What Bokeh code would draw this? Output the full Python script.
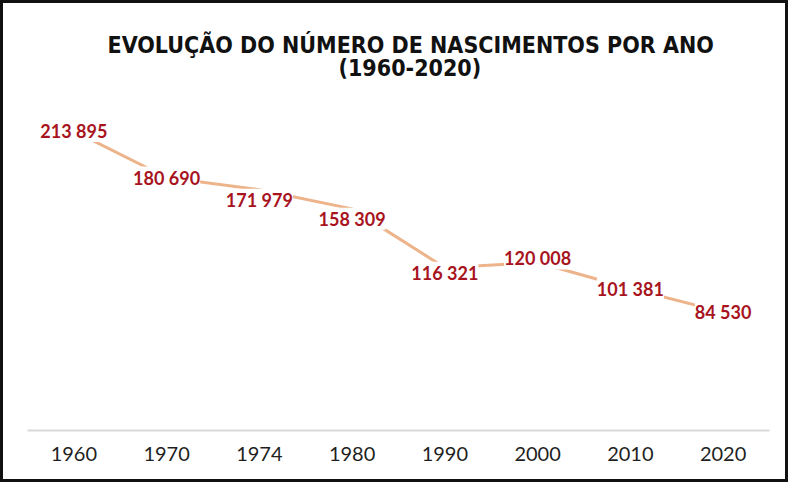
from bokeh.plotting import figure
from bokeh.models import ColumnDataSource, LabelSet, Title, FactorRange
from bokeh.core.properties import value
from bokeh.embed import file_html
from bokeh.resources import INLINE

# ---- data ----
years = ["1960", "1970", "1974", "1980", "1990", "2000", "2010", "2020"]
births = [213895, 180690, 171979, 158309, 116321, 120008, 101381, 84530]
title_line1 = "EVOLUÇÃO DO NÚMERO DE NASCIMENTOS POR ANO"
title_line2 = "(1960-2020)"

# label placement nudges (screen px, style only)
label_dy = [0, 0, -10, -10, -5, 4, 0, 0]

labels = [f"{v:,}".replace(",", " ") for v in births]

src = ColumnDataSource(dict(year=years, births=births, label=labels, dy=label_dy))

p = figure(
    x_range=FactorRange(*years),
    y_range=(0, 250000),
    width=788, height=482,
    output_backend="svg", toolbar_location=None,
    title=None,
    min_border_left=24, min_border_right=22,
    min_border_top=77, min_border_bottom=55,
    styles={"border": "3px solid #111111"},
)
p.outline_line_color = None
p.background_fill_color = "white"
p.border_fill_color = "white"
p.xgrid.visible = False
p.ygrid.visible = False
p.yaxis.visible = False

ax = p.xaxis[0]
ax.axis_line_color = "#d9d9d9"
ax.axis_line_width = 2
ax.major_tick_line_color = None
ax.minor_tick_line_color = None
ax.major_label_text_font = "Lato"
ax.major_label_text_font_size = "20px"
ax.major_label_text_color = "#1f1f1f"
ax.major_label_standoff = 10

p.line("year", "births", source=src, line_color="#EDB38A", line_width=3)

ls = LabelSet(x="year", y="births", text="label", source=src,
              y_offset="dy",
              text_align="center", text_baseline="middle",
              text_font=value("Lato"), text_font_style="bold",
              text_font_size="18px", text_color="#A8141E",
              background_fill_color="white")
p.add_layout(ls)

t2 = Title(text=title_line2, align="left", standoff=0, offset=311,
           text_font="DejaVu Sans Condensed", text_font_style="bold",
           text_font_size="23px", text_color="#111111")
t1 = Title(text=title_line1, align="left", standoff=-10, offset=80,
           text_font="DejaVu Sans Condensed", text_font_style="bold",
           text_font_size="23px", text_color="#111111")
p.add_layout(t2, "above")
p.add_layout(t1, "above")

open("out.html", "w").write(file_html(p, INLINE))
